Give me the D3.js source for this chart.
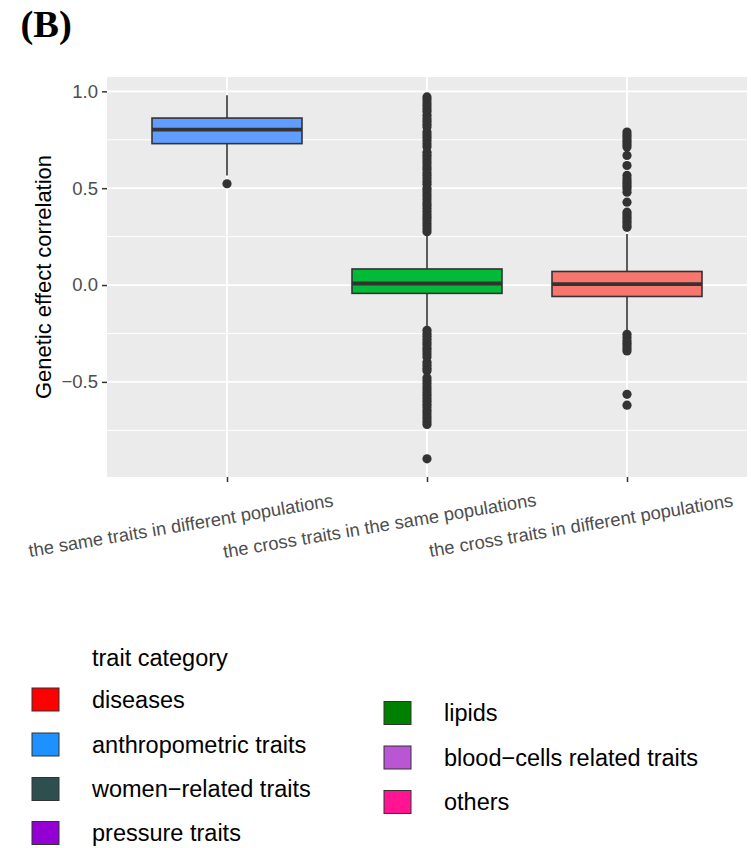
<!DOCTYPE html>
<html>
<head>
<meta charset="utf-8">
<script src="https://cdn.jsdelivr.net/npm/d3@7"></script>
<style>
  body { margin: 0; background: #fff; }
  text { font-family: "Liberation Sans", Arial, sans-serif; }
</style>
</head>
<body>
<div id="chart"></div>
<script>

// categories on the x axis
var groups = ["the same traits in different populations",
              "the cross traits in the same populations",
              "the cross traits in different populations"];

// box statistics, one entry per group
var boxFill   = ["#619CFF", "#00BA38", "#F8766D"];
var lowWhisk  = [0.566, -0.219, -0.237];
var q1        = [0.730, -0.043, -0.059];
var medians   = [0.802,  0.008,  0.005];
var q3        = [0.862,  0.083,  0.070];
var highWhisk = [0.980,  0.264,  0.264];

// outliers
var outliersSame = [0.523];
var outliersCrossSame = [
  0.275, 0.29, 0.306, 0.32, 0.336, 0.35, 0.364, 0.38, 0.395, 0.41, 0.424, 0.44,
  0.456, 0.47, 0.486, 0.50, 0.52, 0.534, 0.55, 0.566, 0.58, 0.596, 0.61, 0.626,
  0.64, 0.656, 0.67, 0.686, 0.714, 0.73, 0.746, 0.762, 0.776, 0.79, 0.816, 0.83,
  0.846, 0.86, 0.876, 0.896, 0.91, 0.926, 0.94, 0.956, 0.971,
  -0.234, -0.25, -0.264, -0.28, -0.296, -0.31, -0.326, -0.34, -0.356, -0.372,
  -0.398, -0.414, -0.43, -0.443, -0.478, -0.494, -0.51, -0.526, -0.54, -0.556,
  -0.57, -0.586, -0.60, -0.616, -0.63, -0.646, -0.66, -0.676, -0.69, -0.706,
  -0.72, -0.897];
var outliersCrossDiff = [
  0.298, 0.31, 0.324, 0.337, 0.35, 0.363, 0.376, 0.428, 0.479, 0.497, 0.51,
  0.523, 0.535, 0.549, 0.566, 0.617, 0.669, 0.712, 0.725, 0.738, 0.75, 0.764,
  0.776, 0.79,
  -0.254, -0.271, -0.288, -0.30, -0.314, -0.327, -0.34, -0.564, -0.62];
var outliers = [outliersSame, outliersCrossSame, outliersCrossDiff];

var yTicks = [-0.5, 0, 0.5, 1.0];
var yMinor = [-0.75, -0.25, 0.25, 0.75];

// legend
var legendLabels = ["diseases", "anthropometric traits", "women\u2212related traits", "pressure traits",
                    "lipids", "blood\u2212cells related traits", "others"];
var legendColors = ["#FF0000", "#1E90FF", "#2F4F4F", "#9400D3",
                    "#008000", "#BA55D3", "#FF1493"];

var w = 751, h = 848;
var padL = 107, padR = 747, padT = 77, padB = 477;

var svg = d3.select("#chart").append("svg")
  .attr("width", w).attr("height", h);

// panel title
svg.append("text")
  .attr("x", 20.5).attr("y", 37)
  .style("font-family", "'Liberation Serif', 'Times New Roman', serif")
  .style("font-weight", "bold")
  .style("font-size", "38.5px")
  .text("(B)");

var x = d3.scalePoint().domain(groups).range([padL, padR]).padding(0.6);
var y = d3.scaleLinear().domain([-0.991, 1.074]).range([padB, padT]);
var boxW = x.step() * 0.75;

// panel background + grid
svg.append("rect")
  .attr("x", padL).attr("y", padT)
  .attr("width", padR - padL).attr("height", padB - padT)
  .attr("fill", "#EBEBEB");

svg.selectAll(".minor").data(yMinor).enter().append("line")
  .attr("x1", padL).attr("x2", padR)
  .attr("y1", function(d) { return y(d); })
  .attr("y2", function(d) { return y(d); })
  .attr("stroke", "#fff").attr("stroke-width", 1);

svg.selectAll(".major").data(yTicks).enter().append("line")
  .attr("x1", padL).attr("x2", padR)
  .attr("y1", function(d) { return y(d); })
  .attr("y2", function(d) { return y(d); })
  .attr("stroke", "#fff").attr("stroke-width", 1.8);

svg.selectAll(".vmajor").data(groups).enter().append("line")
  .attr("x1", function(d) { return x(d); })
  .attr("x2", function(d) { return x(d); })
  .attr("y1", padT).attr("y2", padB)
  .attr("stroke", "#fff").attr("stroke-width", 1.8);

// boxes
var box = svg.selectAll(".box").data(groups).enter().append("g");

box.append("line")
  .attr("x1", function(d) { return x(d); })
  .attr("x2", function(d) { return x(d); })
  .attr("y1", function(d, i) { return y(highWhisk[i]); })
  .attr("y2", function(d, i) { return y(lowWhisk[i]); })
  .attr("stroke", "#333333").attr("stroke-width", 1.6);

box.append("rect")
  .attr("x", function(d) { return x(d) - boxW / 2; })
  .attr("width", boxW)
  .attr("y", function(d, i) { return y(q3[i]); })
  .attr("height", function(d, i) { return y(q1[i]) - y(q3[i]); })
  .attr("fill", function(d, i) { return boxFill[i]; })
  .attr("stroke", "#333333").attr("stroke-width", 1.6);

box.append("line")
  .attr("x1", function(d) { return x(d) - boxW / 2; })
  .attr("x2", function(d) { return x(d) + boxW / 2; })
  .attr("y1", function(d, i) { return y(medians[i]); })
  .attr("y2", function(d, i) { return y(medians[i]); })
  .attr("stroke", "#333333").attr("stroke-width", 3.8);

box.each(function(d, i) {
  d3.select(this).selectAll("circle")
    .data(outliers[i]).enter().append("circle")
    .attr("cx", x(d))
    .attr("cy", function(v) { return y(v); })
    .attr("r", 4.6)
    .attr("fill", "#333333");
});

// axes
var yAxis = d3.axisLeft(y)
  .tickValues(yTicks)
  .tickSize(5)
  .tickPadding(4)
  .tickFormat(d3.format(".1f"));

var gy = svg.append("g")
  .attr("transform", "translate(" + padL + ",0)")
  .call(yAxis);
gy.select(".domain").remove();
gy.selectAll("line").attr("stroke", "#333333").attr("stroke-width", 1.5);
gy.selectAll("text")
  .style("font-size", "18.5px")
  .style("font-family", "'Liberation Sans', Arial, sans-serif")
  .attr("fill", "#4D4D4D");

var xAxis = d3.axisBottom(x).tickSize(5);
var gx = svg.append("g")
  .attr("transform", "translate(0," + padB + ")")
  .call(xAxis);
gx.select(".domain").remove();
gx.selectAll("line").attr("stroke", "#333333").attr("stroke-width", 1.5);
gx.selectAll("text")
  .style("font-size", "18.3px")
  .style("font-family", "'Liberation Sans', Arial, sans-serif")
  .attr("fill", "#4D4D4D")
  .attr("text-anchor", "start")
  .attr("dy", null)
  .attr("y", 0)
  .attr("transform", "translate(0,47) rotate(-9.5)")
  .attr("x", function() { return -0.65 * this.getComputedTextLength(); });

// y axis title
svg.append("text")
  .attr("transform", "translate(51," + ((padT + padB) / 2) + ") rotate(-90)")
  .attr("text-anchor", "middle")
  .style("font-size", "22px")
  .text("Genetic effect correlation");

// legend
svg.append("text")
  .attr("x", 92).attr("y", 666)
  .style("font-size", "23.5px")
  .text("trait category");

var keyX = [32, 32, 32, 32, 384, 384, 384];
var keyY = [699.5, 744.5, 789, 833, 713, 757.5, 802];

var leg = svg.selectAll(".leg").data(legendLabels).enter().append("g")
  .attr("transform", function(d, i) { return "translate(" + keyX[i] + "," + keyY[i] + ")"; });

leg.append("rect")
  .attr("x", 0).attr("y", -11.5)
  .attr("width", 27).attr("height", 23)
  .attr("fill", function(d, i) { return legendColors[i]; })
  .attr("stroke", "#333333").attr("stroke-width", 1);

leg.append("text")
  .attr("x", 60).attr("y", 0).attr("dy", "0.36em")
  .style("font-size", "23.5px")
  .text(function(d) { return d; });

</script>
</body>
</html>
